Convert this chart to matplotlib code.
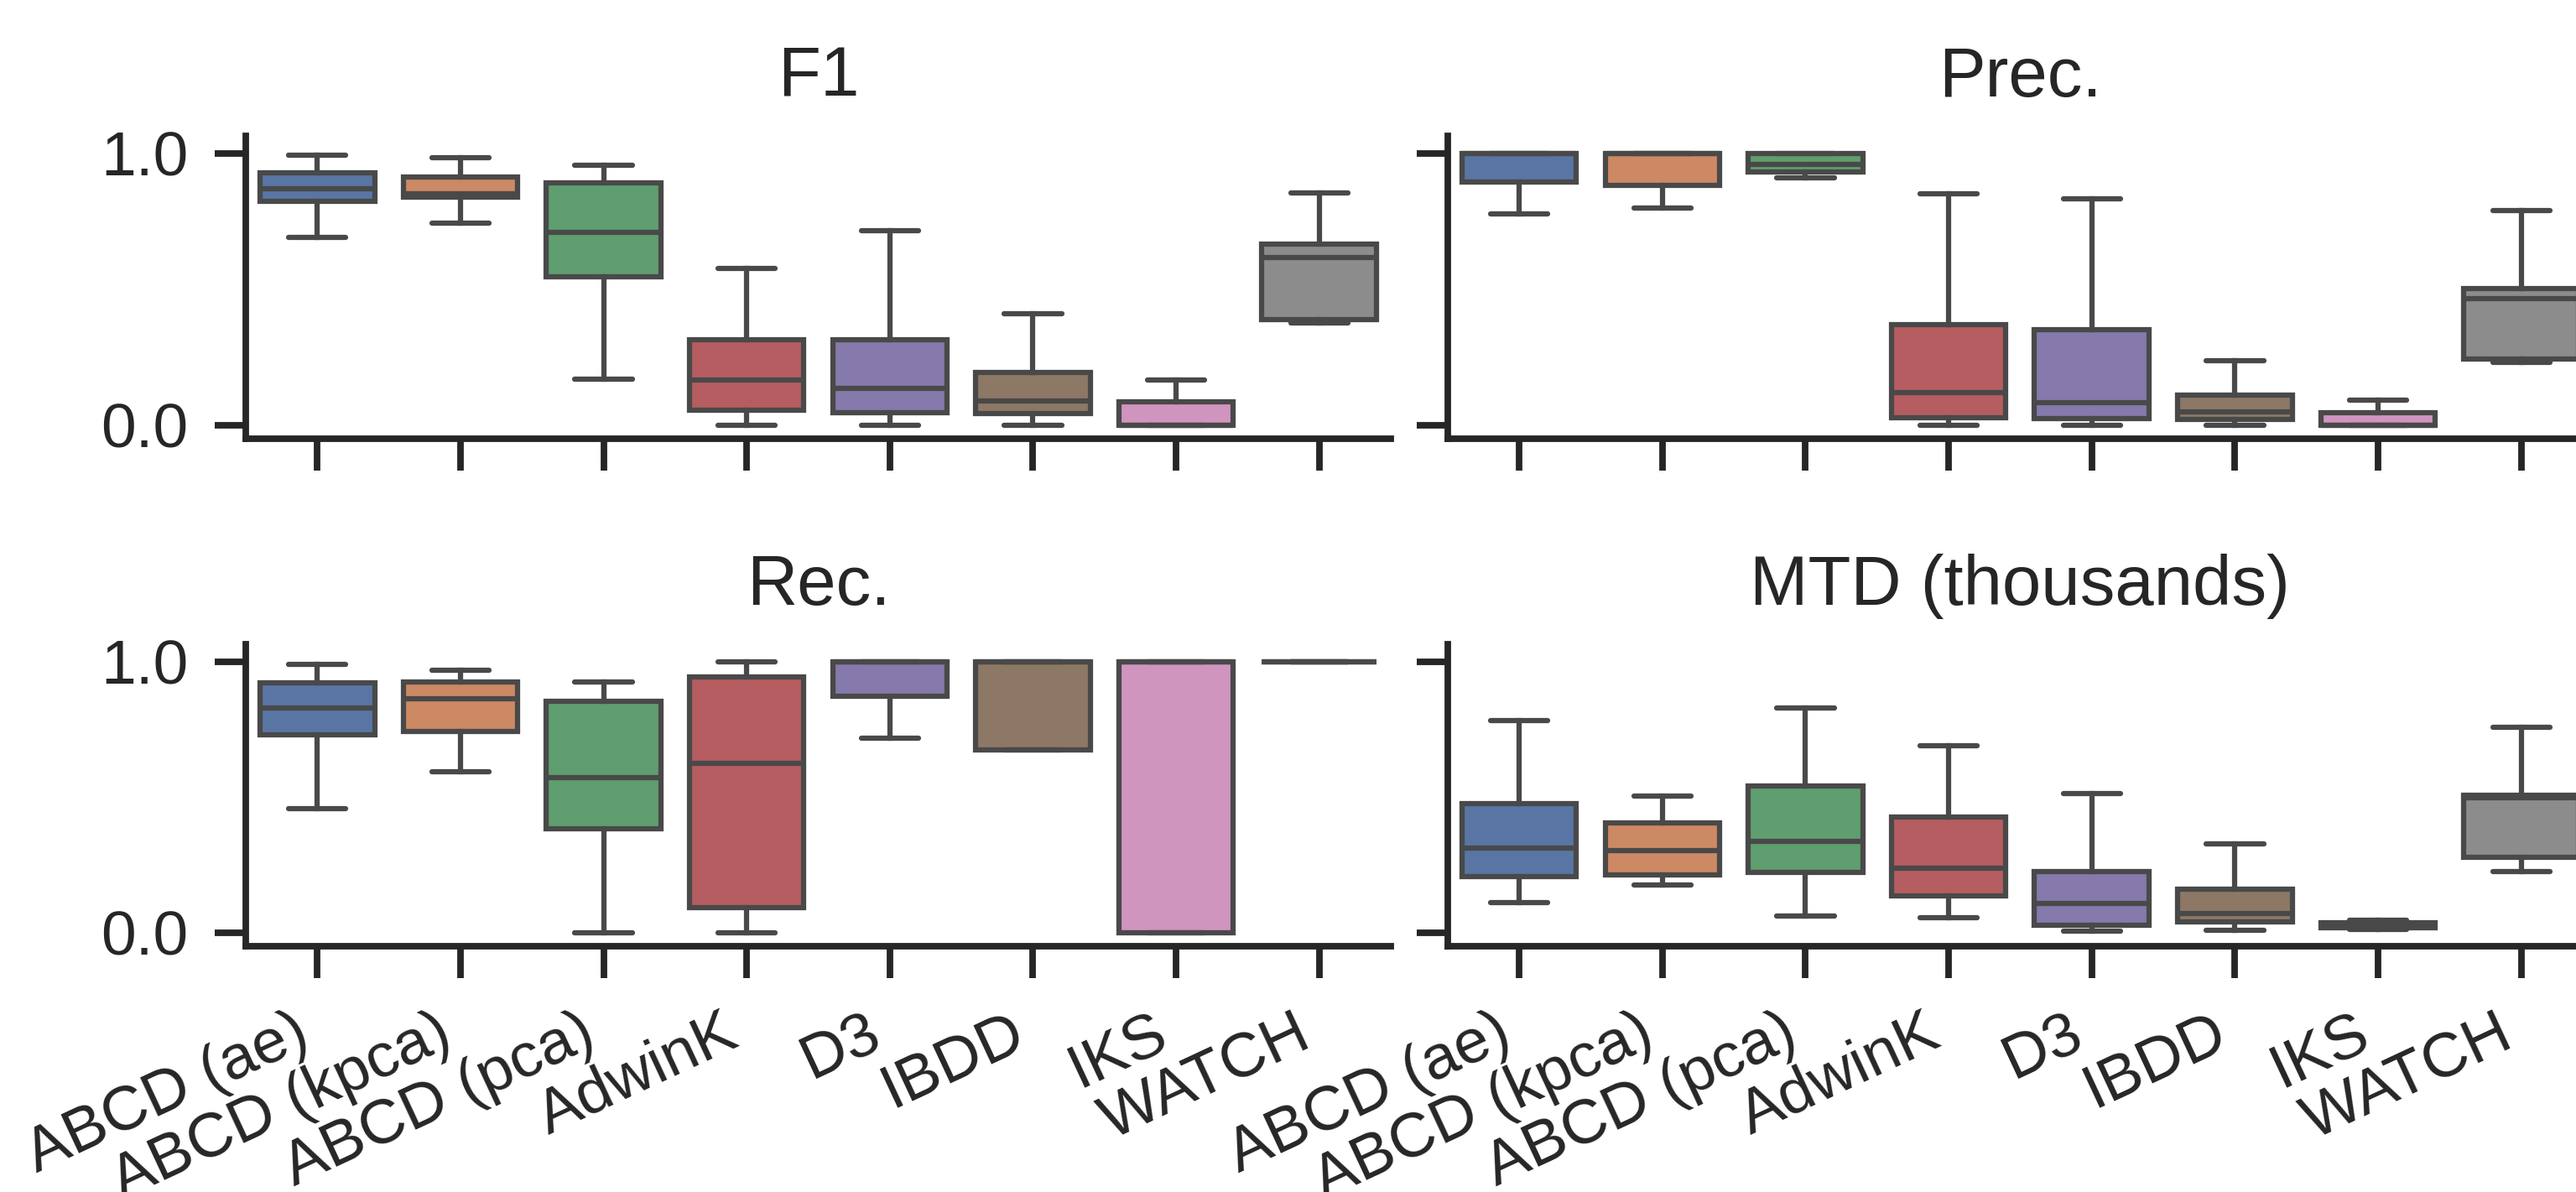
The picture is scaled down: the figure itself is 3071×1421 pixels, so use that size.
import matplotlib.pyplot as plt

plt.rcParams['font.family'] = ['Liberation Sans', 'DejaVu Sans']
plt.rcParams['text.color'] = '#262626'
plt.rcParams['axes.edgecolor'] = '#262626'
plt.rcParams['xtick.color'] = '#262626'
plt.rcParams['ytick.color'] = '#262626'

methods = ['ABCD (ae)', 'ABCD (kpca)', 'ABCD (pca)', 'AdwinK', 'D3', 'IBDD', 'IKS', 'WATCH']
colors = ['#5875A4', '#CC8963', '#5F9E6E', '#B55D60', '#857AAB', '#8D7866', '#D095BF', '#8C8C8C']
line_col = '#494949'

yticks = [0.0, 1.0]
ytick_labels = ['0.0', '1.0']

# F1
f1_whislo = [0.691, 0.744, 0.170, 0.0, 0.0, 0.0, 0.0, 0.376]
f1_q1 = [0.823, 0.838, 0.547, 0.054, 0.045, 0.041, 0.0, 0.388]
f1_med = [0.871, 0.852, 0.710, 0.165, 0.136, 0.090, 0.0, 0.615]
f1_q3 = [0.927, 0.912, 0.892, 0.314, 0.314, 0.195, 0.085, 0.666]
f1_whishi = [0.992, 0.985, 0.957, 0.576, 0.714, 0.410, 0.165, 0.854]

# Precision
prec_whislo = [0.778, 0.800, 0.911, 0.0, 0.0, 0.0, 0.0, 0.232]
prec_q1 = [0.895, 0.883, 0.930, 0.028, 0.023, 0.021, 0.0, 0.242]
prec_med = [1.0, 1.0, 0.959, 0.118, 0.082, 0.049, 0.0, 0.465]
prec_q3 = [1.0, 1.0, 1.0, 0.368, 0.350, 0.110, 0.046, 0.501]
prec_whishi = [1.0, 1.0, 1.0, 0.851, 0.833, 0.237, 0.091, 0.789]

# Recall
rec_whislo = [0.458, 0.595, 0.0, 0.0, 0.717, 0.674, 0.0, 1.0]
rec_q1 = [0.731, 0.743, 0.384, 0.093, 0.871, 0.674, 0.0, 1.0]
rec_med = [0.828, 0.862, 0.573, 0.625, 1.0, 1.0, 1.0, 1.0]
rec_q3 = [0.921, 0.926, 0.854, 0.944, 1.0, 1.0, 1.0, 1.0]
rec_whishi = [0.991, 0.969, 0.924, 1.0, 1.0, 1.0, 1.0, 1.0]

# MTD (thousands)
mtd_whislo = [0.111, 0.177, 0.062, 0.055, 0.005, 0.010, 0.012, 0.226]
mtd_q1 = [0.206, 0.214, 0.223, 0.136, 0.028, 0.041, 0.018, 0.278]
mtd_med = [0.311, 0.304, 0.338, 0.239, 0.108, 0.070, 0.025, 0.497]
mtd_q3 = [0.476, 0.406, 0.540, 0.427, 0.224, 0.160, 0.038, 0.507]
mtd_whishi = [0.782, 0.504, 0.830, 0.691, 0.514, 0.328, 0.045, 0.759]

panels = [
    ('F1', f1_whislo, f1_q1, f1_med, f1_q3, f1_whishi),
    ('Prec.', prec_whislo, prec_q1, prec_med, prec_q3, prec_whishi),
    ('Rec.', rec_whislo, rec_q1, rec_med, rec_q3, rec_whishi),
    ('MTD (thousands)', mtd_whislo, mtd_q1, mtd_med, mtd_q3, mtd_whishi),
]

fig = plt.figure(figsize=(3071 / 300, 1421 / 300), dpi=300)
rects = [
    [0.0954, 0.632, 0.4445, 0.254],
    [0.562, 0.632, 0.4445, 0.254],
    [0.0954, 0.2062, 0.4445, 0.2533],
    [0.562, 0.2062, 0.4445, 0.2533],
]

for i, (title, lo, q1, med, q3, hi) in enumerate(panels):
    ax = fig.add_axes(rects[i])
    stats = []
    for j in range(len(methods)):
        stats.append({'whislo': lo[j], 'q1': q1[j], 'med': med[j],
                      'q3': q3[j], 'whishi': hi[j], 'fliers': []})
    bp = ax.bxp(stats, positions=range(len(methods)), widths=0.8,
                patch_artist=True, showfliers=False,
                boxprops=dict(edgecolor=line_col, linewidth=1.5),
                whiskerprops=dict(color=line_col, linewidth=1.5),
                capprops=dict(color=line_col, linewidth=1.5, solid_capstyle='round'),
                medianprops=dict(color=line_col, linewidth=1.5))
    for patch, c in zip(bp['boxes'], colors):
        patch.set_facecolor(c)

    ax.set_xlim(-0.5, len(methods) - 0.5)
    ax.set_ylim(-0.05, 1.064)
    ax.set_title(title, fontsize=20, pad=11.3)
    ax.spines['top'].set_visible(False)
    ax.spines['right'].set_visible(False)
    ax.spines['left'].set_linewidth(1.875)
    ax.spines['bottom'].set_linewidth(1.875)
    ax.tick_params(width=1.875, length=9, pad=7.5, labelsize=18)

    ax.set_xticks(range(len(methods)))
    if i >= 2:
        ax.set_xticklabels(methods, rotation=25, ha='right')
    else:
        ax.set_xticklabels([])
    if i % 2 == 0:
        ax.set_yticks(yticks, labels=ytick_labels)
    else:
        ax.set_yticks(yticks, labels=['', ''])

fig.savefig('out.png', dpi=300)
